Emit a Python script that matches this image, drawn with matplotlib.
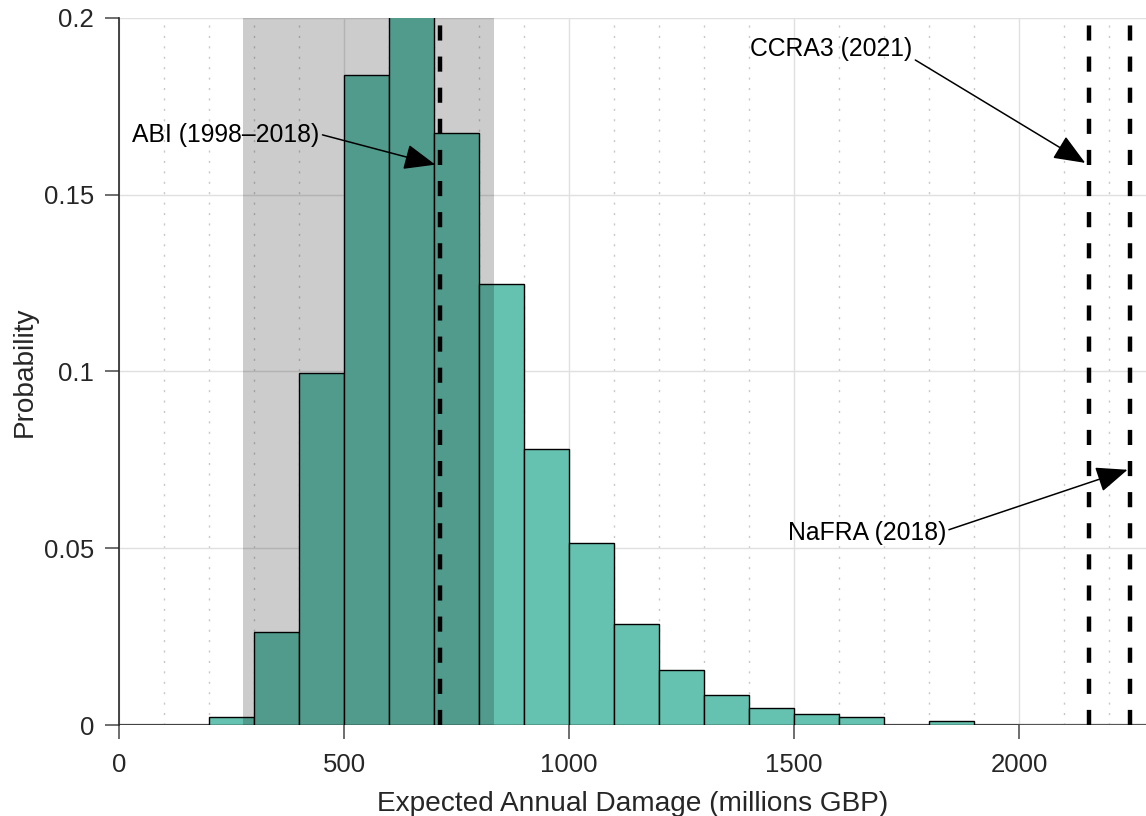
import matplotlib
matplotlib.use("Agg")
import matplotlib.pyplot as plt
import numpy as np
from matplotlib.ticker import MultipleLocator

plt.rcParams['font.family'] = ['Liberation Sans', 'DejaVu Sans']

# Histogram bins (millions GBP) and probabilities
bin_edges = [0, 100, 200, 300, 400, 500, 600, 700, 800, 900, 1000,
             1100, 1200, 1300, 1400, 1500, 1600, 1700, 1800, 1900, 2000]
probabilities = [0.0, 0.0, 0.0022, 0.0263, 0.0996, 0.1839, 0.2037, 0.1675,
                 0.1248, 0.0781, 0.0515, 0.0287, 0.0156, 0.0084, 0.0047,
                 0.0031, 0.0023, 0.0, 0.0011, 0.0]

# Uncertainty band and reference estimates
band_low, band_high = 275, 833
ref_names = ["ABI (1998\u20132018)", "CCRA3 (2021)", "NaFRA (2018)"]
ref_values = [713, 2155, 2247]
# annotation positions: (text x, text y), (arrow tip x, arrow tip y)
text_pos = [(238, 0.1668), (1583, 0.1913), (1662, 0.0543)]
tip_pos = [(703, 0.1585), (2147, 0.1590), (2241, 0.0722)]

fig = plt.figure(figsize=(11.46, 8.16), dpi=100)
ax = fig.add_axes([0.1038, 0.1115, 0.8962, 0.8665])

lefts = np.array(bin_edges[:-1])
widths = np.diff(bin_edges)
ax.bar(lefts, probabilities, width=widths, align='edge', color='#66c2b0',
       edgecolor='black', linewidth=1.0, zorder=2)

ax.axvspan(band_low, band_high, color='black', alpha=0.2, linewidth=0, zorder=3)

for v in ref_values:
    ax.axvline(v, color='black', linewidth=3.2, dashes=(3.4, 3.6), zorder=4)

rels = [(1.0, 0.55), (1.0, 0.1), (1.0, 0.6)]
for name, (tx, ty), (px, py), rp in zip(ref_names, text_pos, tip_pos, rels):
    ax.annotate(name, xy=(px, py), xytext=(tx, ty), fontsize=17.8,
                ha='center', va='center', color='black', zorder=5,
                arrowprops=dict(arrowstyle='-|>,head_length=1.1,head_width=0.45',
                                color='black', lw=1.1, shrinkA=0, shrinkB=0,
                                relpos=rp))

ax.set_xlim(0, 2282)
ax.set_ylim(0, 0.2)
ax.xaxis.set_major_locator(MultipleLocator(500))
ax.xaxis.set_minor_locator(MultipleLocator(100))
ax.set_yticks([0, 0.05, 0.1, 0.15, 0.2])
ax.set_yticklabels(['0', '0.05', '0.1', '0.15', '0.2'])

ax.grid(which='major', color='#e0e0e0', linewidth=1.0, zorder=0)
ax.grid(which='minor', axis='x', color='#c8c8c8', linewidth=1.0,
        linestyle=(0, (1.5, 6)), zorder=0)
ax.set_axisbelow(True)

for s in ['top', 'right']:
    ax.spines[s].set_visible(False)
ax.spines['bottom'].set_visible(False)
ax.spines['left'].set_color('#262626')
ax.spines['left'].set_linewidth(1.2)
ax.axhline(0, color='#555555', linewidth=1.6, zorder=1)

ax.tick_params(axis='both', which='major', direction='out', length=10,
               width=1.2, color='#555555', labelsize=18.5, labelcolor='#262626',
               pad=8)
ax.tick_params(axis='x', which='major', pad=10)
ax.tick_params(axis='x', which='minor', length=0)

ax.set_xlabel('Expected Annual Damage (millions GBP)', fontsize=20.2,
              color='#262626', labelpad=10)
ax.set_ylabel('Probability', fontsize=20.2, color='#262626', labelpad=4)

fig.savefig('out.png', dpi=100)
